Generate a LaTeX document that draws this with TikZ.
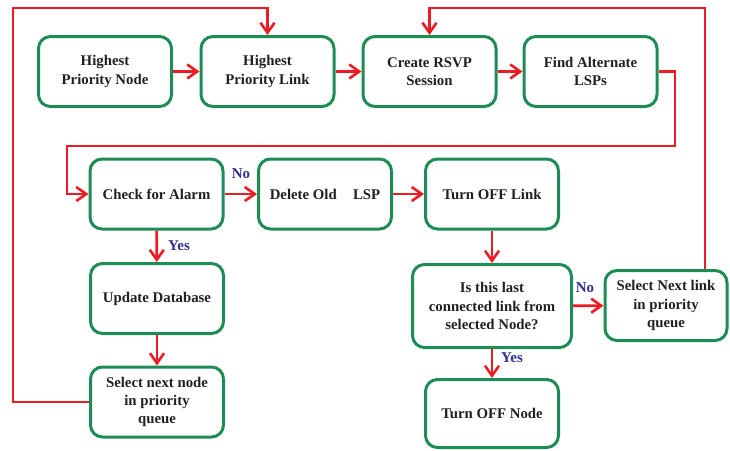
\documentclass[tikz,border=0pt]{standalone}
\usepackage{fontspec}
\setmainfont{Liberation Serif}
\usetikzlibrary{arrows.meta}
\definecolor{boxgreen}{RGB}{30,140,85}
\definecolor{flowred}{RGB}{237,28,36}
\definecolor{labelblue}{RGB}{46,49,146}
\definecolor{inkgray}{RGB}{35,31,32}
\tikzset{
  stepbox/.style={draw=boxgreen, line width=3pt, rounded corners=12pt,
    align=center, text=inkgray, inner sep=0pt,
    font=\fontsize{14.8}{18.3}\selectfont\bfseries,
    minimum width=133pt, minimum height=70pt},
  flow/.style={draw=flowred, line width=2.6pt,
    -{Straight Barb[length=10pt,width=14pt]}},
  answer/.style={text=labelblue, font=\fontsize{15}{17}\selectfont\bfseries, inner sep=0pt}
}
\begin{document}
\begin{tikzpicture}[x=1pt,y=-1pt]
  \useasboundingbox (0,0) rectangle (730,450);

  % top row
  \node[stepbox] (n1) at (105,71.5) {Highest\\Priority Node};
  \node[stepbox] (n2) at (267.5,71.5) {Highest\\Priority Link};
  \node[stepbox] (n3) at (429.5,71.5) {Create RSVP\\Session};
  \node[stepbox] (n4) at (590.5,71.5) {Find Alternate\\LSPs};

  % second row
  \node[stepbox] (chk) at (156.5,194) {Check for Alarm};
  \node[stepbox] (del) at (325,194) {Delete Old\hspace{1.1em}LSP};
  \node[stepbox] (lnk) at (492,194) {Turn OFF Link};

  % left column
  \node[stepbox] (upd) at (157,298.5) {Update Database};
  \node[stepbox] (nxn) at (157,402) {Select next node\\in priority\\queue};

  % right part
  \node[stepbox, minimum width=159pt, minimum height=83pt] (last) at (492,306)
    {Is this last\\connected link from\\selected Node?};
  \node[stepbox, minimum width=122pt] (nxl) at (666,305.5)
    {Select Next link\\in priority\\queue};
  \node[stepbox, minimum height=68pt] (off) at (492,413.5) {Turn OFF Node};

  % routing points
  \coordinate (lpA) at (13,8);
  \coordinate (rtA) at (675,146);
  \coordinate (rtB) at (67,146);
  \coordinate (rtC) at (705,8);

  % straight connectors
  \draw[flow] (n1) -- (n2);
  \draw[flow] (n2) -- (n3);
  \draw[flow] (n3) -- (n4);
  \draw[flow] (chk) -- (del);
  \draw[flow] (del) -- (lnk);
  \draw[flow] (chk) -- (upd);
  \draw[flow] (upd) -- (nxn);
  \draw[flow] (lnk) -- (last);
  \draw[flow] (last) -- (nxl);
  \draw[flow] (last) -- (off);

  % routed connectors
  \draw[flow] (n4.east) -| (rtA) -- (rtB) |- (chk.west);
  \draw[flow] (nxn.west) -| (lpA) -| (n2.north);
  \draw[flow] (nxl.north -| rtC) -- (rtC) -| (n3.north);

  % decision labels
  \node[answer] (no1) at (241,174) {No};
  \node[answer] (yes1) at (179,246) {Yes};
  \node[answer] (no2) at (585,288) {No};
  \node[answer] (yes2) at (512,358) {Yes};
\end{tikzpicture}
\end{document}
